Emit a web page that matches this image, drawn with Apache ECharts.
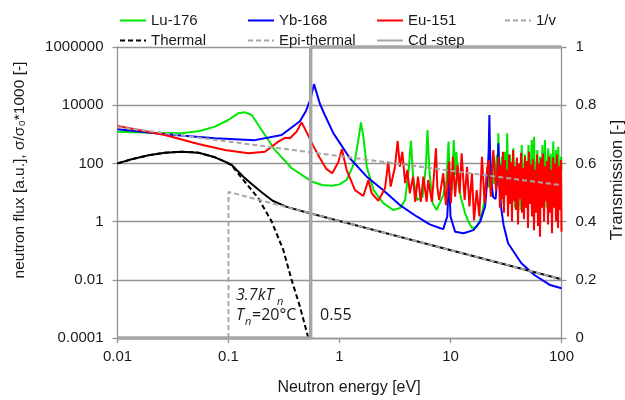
<!DOCTYPE html>
<html><head><meta charset="utf-8">
<script src="https://cdn.jsdelivr.net/npm/echarts/dist/echarts.min.js"></script>
<style>html,body{margin:0;padding:0;background:#fff}#c{width:625px;height:400px}</style>
</head><body><div id="c"></div>
<script>
// ---------- data (energy in eV, value) ----------
const xTickLabels = ['0.01','0.1','1','10','100'];
const yTickExp = [-4,-2,0,2,4,6];
const yTickLabels = ['0.0001','0.01','1','100','10000','1000000'];

const lu176 = [[0.01,1230],[0.02,1120],[0.0378,1080],[0.055,1300],[0.0755,1830],[0.0995,3100],[0.122,5250],[0.141,5700],[0.162,4600],[0.199,1410],[0.262,290],[0.371,68],[0.56,24],[0.7,18],[0.85,17],[1.0,19],[1.16,27],[1.3,70],[1.38,130],[1.51,1080],[1.56,2570],[1.64,830],[1.76,77],[2.03,12],[2.48,4.3],[3.05,2.5],[3.5,2.9],[3.9,5.5],[4.2,59],[4.4,600],[4.6,35],[5.0,5.5],[5.6,7.2],[6.0,77],[6.2,1400],[6.45,59],[6.9,4.3],[7.5,2.5],[8.0,4.3],[8.6,8],[9.2,25],[9.6,560],[9.95,15],[10.3,12],[10.7,640],[11.0,40],[11.3,250],[11.8,20],[12.5,6],[13.5,2],[14.5,1],[15.6,0.6],[17.2,0.65],[18.5,1.2],[19.5,2.5],[20.3,6],[21,20],[21.5,80],[22,15],[23,25],[23.8,90],[24.5,20],[25.5,60],[26.2,200],[26.6,40],[27,1080],[27.6,15],[29,170],[30,4],[30.9,250],[31.7,8],[32.4,1080],[33.4,5],[34.4,200],[35.6,6],[36.8,330],[38.1,3],[39.4,130],[40.5,5],[41.7,77],[42.7,2.5],[43.8,430],[45.3,6],[46.9,200],[48.6,3],[50.4,430],[52.1,8],[53.9,640],[55.2,10],[56.5,830],[58.5,4],[60.6,290],[62.2,2],[64,170],[65.6,5],[67.3,430],[69.1,7],[71,640],[73.4,3],[75.9,330],[77.9,5],[79.9,220],[82,4],[84.3,560],[86.7,6],[89.2,290],[91.4,3],[93.6,375],[96.3,5],[99,170],[100,60]];

const yb168 = [[0.01,1480],[0.0268,1000],[0.0755,730],[0.173,630],[0.301,950],[0.44,2800],[0.5,6500],[0.55,17000],[0.589,53000],[0.625,25000],[0.667,11000],[0.75,4000],[0.88,1100],[1.24,150],[1.76,35],[2.48,12],[3.5,3.7],[4.96,1.5],[6.5,0.8],[8.0,0.6],[8.6,0.55],[9.35,1.5],[9.6,12],[9.7,68],[9.8,12],[10.0,1.5],[11,0.45],[13.1,0.4],[16.1,0.51],[18.5,1.0],[20.5,3.3],[21.5,30],[22.1,300],[22.4,4600],[22.7,300],[23.2,30],[24.2,7],[25.5,6],[26.5,40],[27,490],[27.5,40],[28.5,3.3],[30,0.8],[33,0.18],[43.5,0.037],[57,0.0146],[79,0.0066],[100,0.0051]];

const eu151 = [[0.01,1940],[0.0268,950],[0.0535,465],[0.093,290],[0.151,223],[0.213,252],[0.281,560],[0.323,760],[0.358,730],[0.41,1230],[0.456,2570],[0.524,900],[0.58,400],[0.667,150],[0.76,65],[0.86,46],[0.975,110],[1.05,305],[1.16,59],[1.38,12],[1.64,7.6],[1.82,27],[1.95,9.4],[2.24,5.2],[2.57,14],[2.75,115],[2.89,16],[3.16,77],[3.34,590],[3.5,77],[3.68,252],[3.9,21],[4.08,60],[4.3,9.4],[4.6,35],[4.8,4.8],[5.1,35],[5.4,4.8],[5.7,35],[6.1,4.8],[6.3,27],[6.8,4.8],[7.1,40],[7.4,330],[7.6,16],[7.9,5.5],[8.6,46],[9.1,3.7],[9.7,115],[10.1,4.3],[10.5,170],[11,7.2],[11.6,89],[12.1,9.4],[12.6,223],[13.4,5.5],[14.1,77],[14.8,3.3],[15.6,46],[16.3,1.1],[17.2,12],[18.2,1.5],[19.2,170],[20.3,4.3],[21.3,59],[22.1,130],[23.1,7.2],[24.3,290],[25.7,12],[27,170],[27.9,3],[28.5,90],[29.1,6],[29.7,250],[30.3,2],[31.0,130],[31.6,8],[32.3,60],[33.0,1.5],[33.7,200],[34.4,4],[35.1,110],[35.8,1],[36.6,290],[37.3,5],[38.1,80],[38.9,2.5],[39.7,160],[40.6,0.8],[41.4,100],[42.3,6],[43.2,230],[44.1,2],[45.0,70],[45.9,1.2],[46.9,180],[47.9,3],[48.9,120],[49.9,0.6],[51.0,250],[52.0,4],[53.1,90],[54.2,1.5],[55.4,140],[56.5,0.5],[57.7,60],[58.9,2],[60.2,200],[61.4,0.7],[62.7,100],[64.0,0.3],[65.4,150],[66.7,3],[68.1,220],[69.6,1],[71.0,80],[72.5,5],[74.0,120],[75.6,0.8],[77.2,170],[78.8,2],[80.4,60],[82.1,0.4],[83.8,160],[85.6,3],[87.4,100],[89.2,1],[91.1,200],[93.0,0.6],[94.9,80],[96.9,2.5],[99,130],[100,0.45]];

const oneOverV = [[0.01,1780],[100,17.8]];
const thermal = [[0.01,100],[0.0134,138],[0.019,190],[0.0268,234],[0.038,252],[0.0535,234],[0.0755,162],[0.093,115],[0.107,85],[0.136,27],[0.186,6.3],[0.245,1],[0.312,0.105],[0.37,0.01],[0.44,0.0012],[0.524,0.0001]];
const thermalTotal = [[0.01,100],[0.0134,138],[0.019,190],[0.0268,234],[0.038,252],[0.0535,234],[0.0755,162],[0.093,115],[0.107,88],[0.136,35],[0.156,22],[0.2,10],[0.25,5.2],[0.334,3.2],[0.5,2.1],[1,1.05],[100,0.0105]];
const epiThermal = [[0.1,0.0001],[0.1,10.5],[100,0.0105]];
const cdStep = [[0.01,0],[0.55,0],[0.55,1],[100,1]];

// ---------- chart ----------
const GRAY = '#a6a6a6', AXIS = '#949494', TXT = '#1a1a1a';
const FONT = 'Liberation Sans, Arial, sans-serif';
const chart = echarts.init(document.getElementById('c'), null, {renderer:'canvas'});
function line(name, data, color, width, type, yIdx, extra) {
  return Object.assign({name, type:'line', data, yAxisIndex:yIdx||0, showSymbol:false, symbol:'none',
    lineStyle:{color, width, type:type||'solid'}, itemStyle:{color}, silent:true, z:2}, extra||{});
}
function leg(name, left, top) {
  return {data:[{name, itemStyle:{opacity:0}}], left, top, itemWidth:26, itemHeight:12, padding:0,
    textStyle:{fontFamily:FONT, fontSize:15, color:TXT}};
}
chart.setOption({
  animation:false,
  backgroundColor:'#fff',
  grid:{left:117.5, right:63.5, top:47, bottom:62},
  legend:[leg('Lu-176',119,13), leg('Yb-168',247,13), leg('Eu-151',376,13), leg('1/v',504,13),
          leg('Thermal',119,33), leg('Epi-thermal',247,33), leg('Cd -step',376,33)],
  xAxis:{type:'log', logBase:10, min:0.01, max:100, interval:1,
    axisLine:{lineStyle:{color:AXIS, width:1.3}},
    axisTick:{length:5, lineStyle:{color:AXIS, width:1.3}},
    minorTick:{show:false}, splitLine:{show:false},
    axisLabel:{margin:11, fontFamily:FONT, fontSize:15, color:TXT,
      formatter:v=>xTickLabels[Math.round(Math.log10(v))+2]}},
  yAxis:[
    {type:'log', logBase:10, min:0.0001, max:1000000, interval:2,
     axisLine:{show:true, lineStyle:{color:AXIS, width:1.3}},
     axisTick:{show:true, length:5, lineStyle:{color:AXIS, width:1.3}},
     splitLine:{show:true, lineStyle:{color:AXIS, width:1.3}},
     axisLabel:{margin:14, fontFamily:FONT, fontSize:15, color:TXT,
       formatter:v=>yTickLabels[yTickExp.indexOf(Math.round(Math.log10(v)))]}},
    {type:'value', min:0, max:1, interval:0.2, position:'right',
     axisLine:{show:true, lineStyle:{color:AXIS, width:1.3}},
     axisTick:{show:true, length:5, lineStyle:{color:AXIS, width:1.3}},
     splitLine:{show:false},
     axisLabel:{margin:14, fontFamily:FONT, fontSize:15, color:TXT}}
  ],
  series:[
    line('Lu-176', lu176, '#00e600', 2),
    line('Yb-168', yb168, '#0000ff', 2),
    line('Eu-151', eu151, '#ff0000', 2),
    line('1/v', oneOverV, GRAY, 2, [5,3]),
    line('Thermal total', thermalTotal, '#000000', 2),
    line('Thermal', thermal, '#000000', 2, [5,3]),
    line('Epi-thermal', epiThermal, GRAY, 2, [5,3]),
    line('Cd -step', cdStep, GRAY, 3.5, 'solid', 1, {clip:false, z:3})
  ],
  graphic:[
    {type:'text', x:20, y:170, rotation:Math.PI/2, style:{text:'neutron flux [a.u.], σ/σ₀*1000 [-]', fill:TXT, font:'15.5px ' + FONT, align:'center', verticalAlign:'middle'}},
    {type:'text', x:617, y:180, rotation:Math.PI/2, style:{text:'Transmission [-]', fill:TXT, font:'17px ' + FONT, align:'center', verticalAlign:'middle'}},
    {type:'text', x:349, y:388, style:{text:'Neutron energy [eV]', fill:TXT, font:'16px ' + FONT, align:'center', verticalAlign:'middle'}},
    {type:'text', left:236, top:287, style:{text:'3.7kT', fill:TXT, font:'italic 16px "Open Sans"'}},
    {type:'text', left:277, top:296, style:{text:'n', fill:TXT, font:'italic 11px "Open Sans"'}},
    {type:'text', left:236, top:307, style:{text:'T', fill:TXT, font:'italic 16px "Open Sans"'}},
    {type:'text', left:245, top:316, style:{text:'n', fill:TXT, font:'italic 11px "Open Sans"'}},
    {type:'text', left:252, top:307, style:{text:'=20°C', fill:TXT, font:'16px "Open Sans"'}},
    {type:'text', left:320, top:307, style:{text:'0.55', fill:TXT, font:'16px "Open Sans"'}}
  ]
});
</script></body></html>
